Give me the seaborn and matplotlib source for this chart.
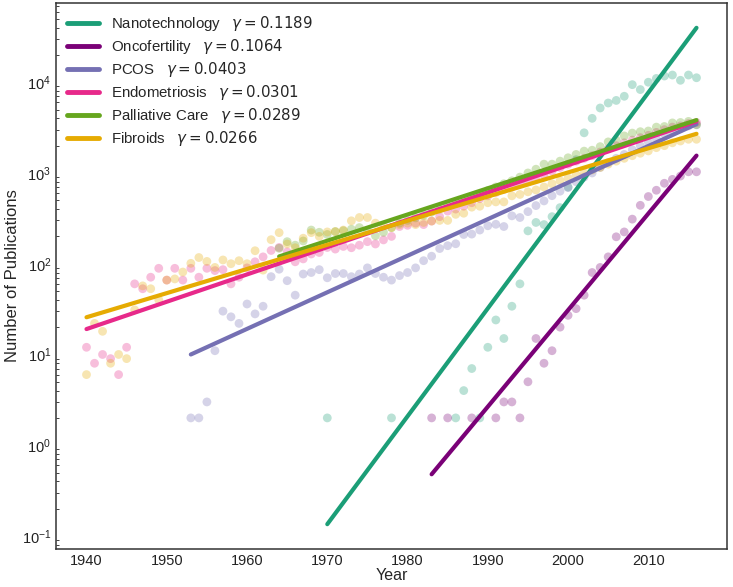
import numpy as np
import pandas as pd
import seaborn as sns
import matplotlib.pyplot as plt

# topics, in legend order
topics = ["Nanotechnology", "Oncofertility", "PCOS", "Endometriosis", "Palliative Care", "Fibroids"]
colors = ["#1b9e77", "#7a0177", "#7570b3", "#e7298a", "#66a61e", "#e6ab02"]

# publications per year
nano_years = [1970, 1978, 1986, 1987, 1988, 1989, 1990, 1991, 1992, 1993, 1994, 1995, 1996, 1997,
              1998, 1999, 2000, 2001, 2002, 2003, 2004, 2005, 2006, 2007, 2008, 2009, 2010, 2011,
              2012, 2013, 2014, 2015, 2016]
nano_counts = [2, 2, 2, 4, 7, 2, 12, 24, 15, 34, 60, 230, 285, 270,
               330, 415, 700, 1400, 2770, 4000, 5200, 5900, 6300, 7000, 9400, 8300, 10000, 11000,
               11700, 12000, 10500, 12000, 11200]

onco_years = [1983, 1985, 1988, 1991, 1992, 1993, 1994, 1995, 1996, 1997, 1998, 1999, 2000, 2001,
              2002, 2003, 2004, 2005, 2006, 2007, 2008, 2009, 2010, 2011, 2012, 2013, 2014, 2015, 2016]
onco_counts = [2, 2, 2, 2, 3, 3, 2, 5, 15, 8, 11, 20, 27, 32,
               45, 80, 91, 119, 198, 224, 310, 440, 550, 645, 770, 850, 925, 1030, 1030]

pcos_years = list(range(1953, 2017))
pcos_counts = [2, 2, 3, 11, 30, 26, 22,
               36, 28, 34, 72, 87, 65, 45, 77, 80, 86,
               70, 78, 78, 72, 77, 90, 78, 71, 66, 74,
               80, 90, 108, 121, 147, 158, 166, 210, 212, 235,
               262, 272, 257, 337, 323, 375, 437, 492, 562, 630,
               690, 800, 900, 1000, 1150, 1300, 1450, 1600, 1800, 2000,
               2200, 2400, 2700, 2900, 3100, 3300, 3400]

endo_years = list(range(1940, 2017))
endo_counts = [12, 8, 10, 9, 6, 12, 60, 53, 71, 89,
               66, 89, 66, 89, 71, 89, 84, 86, 60, 71,
               90, 105, 119, 140, 151, 135, 105, 113, 128, 133,
               151, 145, 155, 150, 160, 175, 165, 183, 200, 257,
               265, 280, 270, 295, 330, 380, 400, 430, 470, 520,
               560, 610, 660, 700, 760, 800, 850, 950, 1050, 1150,
               1250, 1350, 1450, 1550, 1700, 1850, 2000, 2150, 2300, 2450,
               2600, 2800, 3000, 3200, 3300, 3500, 3600]

pall_years = list(range(1964, 2017))
pall_counts = [148, 175, 160, 178, 235, 222,
               210, 226, 231, 240, 250, 230, 203, 222, 250, 280,
               300, 320, 340, 370, 400, 430, 460, 500, 540, 580,
               640, 700, 760, 820, 900, 1000, 1100, 1250, 1250, 1350,
               1470, 1600, 1740, 1780, 1950, 2200, 2300, 2560, 2750, 2850,
               2900, 3200, 3250, 3560, 3600, 3700, 3400]

fib_years = list(range(1940, 2017))
fib_counts = [6, 22, 18, 8, 10, 9, 31, 57, 53, 40,
              66, 68, 81, 101, 117, 106, 91, 110, 100, 108,
              100, 139, 85, 184, 220, 165, 150, 191, 220, 200,
              224, 226, 235, 297, 323, 323, 280, 260, 250, 270,
              280, 270, 285, 295, 300, 300, 350, 360, 420, 430,
              470, 480, 480, 560, 580, 620, 650, 700, 760, 820,
              880, 950, 1000, 1080, 1150, 1250, 1350, 1450, 1550, 1650,
              1750, 1900, 2000, 2150, 2250, 2350, 2350]

# exponential fits: growth rate gamma (log10 per year), start year, log10 value at start
gammas = [0.1189, 0.1064, 0.0403, 0.0301, 0.0289, 0.0266]
fit_start = [1970, 1983, 1953, 1940, 1964, 1940]
fit_end = [2016, 2016, 2016, 2016, 2016, 2016]
fit_log0 = [-0.87, -0.32, 1.0, 1.28, 2.08, 1.41]

all_years = [nano_years, onco_years, pcos_years, endo_years, pall_years, fib_years]
all_counts = [nano_counts, onco_counts, pcos_counts, endo_counts, pall_counts, fib_counts]

pts = pd.concat([pd.DataFrame({"year": y, "count": c, "topic": t})
                 for t, y, c in zip(topics, all_years, all_counts)])

labels = [f"{t}   $\\gamma = {g}$" for t, g in zip(topics, gammas)]
fits = []
for lab, g, s, e, l0 in zip(labels, gammas, fit_start, fit_end, fit_log0):
    yr = np.arange(s, e + 1)
    fits.append(pd.DataFrame({"year": yr, "fit": 10 ** (l0 + g * (yr - s)), "label": lab}))
fits = pd.concat(fits)

sns.set_style("white")
plt.rcParams["font.family"] = ["Liberation Sans", "DejaVu Sans"]
plt.rcParams["mathtext.fontset"] = "custom"
plt.rcParams["mathtext.rm"] = "Liberation Sans"
plt.rcParams["mathtext.it"] = "Liberation Sans:italic"

fig = plt.figure(figsize=(7.33, 5.87), dpi=100)
ax = fig.add_axes([56 / 733, 38 / 587, 671 / 733, 546 / 587])

sns.scatterplot(data=pts, x="year", y="count", hue="topic", hue_order=topics,
                palette=colors, alpha=0.3, s=40, linewidth=0, legend=False, ax=ax)
sns.lineplot(data=fits, x="year", y="fit", hue="label", hue_order=labels,
             palette=colors, linewidth=3, ax=ax)
ax.set_yscale("log")

leg = ax.legend(loc="upper left", frameon=False, fontsize=10.8, handlelength=2.1,
                labelspacing=0.26, borderaxespad=0.35)
for line in leg.get_lines():
    line.set_linewidth(3.5)
for txt in leg.get_texts():
    txt.set_math_fontfamily("dejavusans")

ax.set_xticks(range(1940, 2020, 10))
ax.tick_params(axis="both", which="both", direction="in", top=False, right=False,
               labelsize=10.5, colors="#222222")
ax.tick_params(axis="both", which="major", length=4, width=0.8)
ax.tick_params(axis="y", which="minor", length=2, width=0.6, left=True)
for sp in ax.spines.values():
    sp.set_color("#333333")
    sp.set_linewidth(1.1)

ax.set_xlabel("Year", fontsize=11.5, labelpad=0)
ax.set_ylabel("Number of Publications", fontsize=12, labelpad=1)

fig.savefig("out.png", dpi=100)
